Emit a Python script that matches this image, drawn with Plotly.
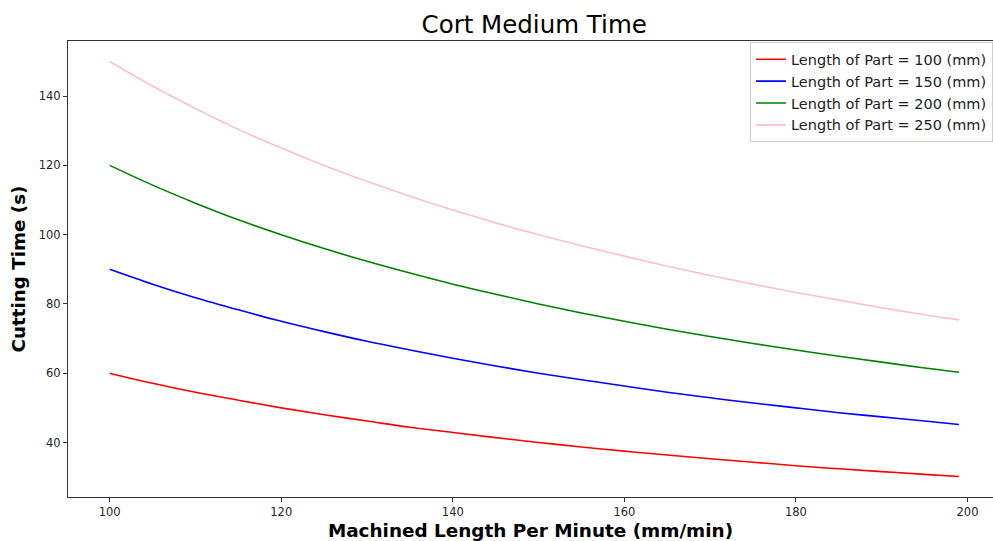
import plotly.graph_objects as go

speed = [100, 105, 110, 115, 120, 125, 130, 135, 140, 145, 150,
         155, 160, 165, 170, 175, 180, 185, 190, 195, 199]
time_100 = [60.0, 57.1, 54.5, 52.2, 50.0, 48.0, 46.2, 44.4, 42.9, 41.4, 40.0,
            38.7, 37.5, 36.4, 35.3, 34.3, 33.3, 32.4, 31.6, 30.8, 30.2]
time_150 = [90.0, 85.7, 81.8, 78.3, 75.0, 72.0, 69.2, 66.7, 64.3, 62.1, 60.0,
            58.1, 56.3, 54.5, 52.9, 51.4, 50.0, 48.6, 47.4, 46.2, 45.2]
time_200 = [120.0, 114.3, 109.1, 104.3, 100.0, 96.0, 92.3, 88.9, 85.7, 82.8, 80.0,
            77.4, 75.0, 72.7, 70.6, 68.6, 66.7, 64.9, 63.2, 61.5, 60.3]
time_250 = [150.0, 142.9, 136.4, 130.4, 125.0, 120.0, 115.4, 111.1, 107.1, 103.4, 100.0,
            96.8, 93.8, 90.9, 88.2, 85.7, 83.3, 81.1, 78.9, 76.9, 75.4]

series = [
    ("Length of Part = 100 (mm)", time_100, "red"),
    ("Length of Part = 150 (mm)", time_150, "blue"),
    ("Length of Part = 200 (mm)", time_200, "green"),
    ("Length of Part = 250 (mm)", time_250, "pink"),
]

fig = go.Figure()
for name, ys, col in series:
    fig.add_trace(go.Scatter(x=speed, y=ys, mode="lines", name=name,
                             line=dict(color=col, width=1.6, shape="spline", smoothing=1.0)))

font = "DejaVu Sans"
fig.update_layout(
    width=993, height=541,
    margin=dict(l=68, r=0, t=41, b=44),
    paper_bgcolor="white", plot_bgcolor="white",
    font=dict(family=font, size=11, color="black"),
    title=dict(text="Cort Medium Time", x=0.504, xref="paper", xanchor="center",
               y=0.955, yref="container", yanchor="middle",
               font=dict(family=font, size=24.5, color="black")),
    legend=dict(x=1.0, y=0.997, xanchor="right", yanchor="top",
                bgcolor="white", bordercolor="#cccccc", borderwidth=1,
                font=dict(family=font, size=14.5, color="#222222"),
                tracegroupgap=0, itemwidth=30),
    showlegend=True,
)
fig.update_xaxes(
    range=[95.14, 202.97], tickvals=[100, 120, 140, 160, 180, 200],
    showgrid=False, zeroline=False, showline=True, linecolor="#333333", linewidth=1,
    mirror=True, ticks="outside", ticklen=4, tickcolor="#333333",
    tickfont=dict(family=font, size=11.5, color="#262626"),
    title=dict(text="<b>Machined Length Per Minute (mm/min)</b>",
               font=dict(family=font, size=18.4, color="black"), standoff=6),
)
fig.update_yaxes(
    range=[24.26, 155.91], tickvals=[40, 60, 80, 100, 120, 140],
    showgrid=False, zeroline=False, showline=True, linecolor="#333333", linewidth=1,
    mirror=True, ticks="outside", ticklen=4, tickcolor="#333333",
    tickfont=dict(family=font, size=11.5, color="#262626"),
    title=dict(text="<b>Cutting Time (s)</b>",
               font=dict(family=font, size=18.3, color="black"), standoff=8),
)

fig.write_html("out.html")
